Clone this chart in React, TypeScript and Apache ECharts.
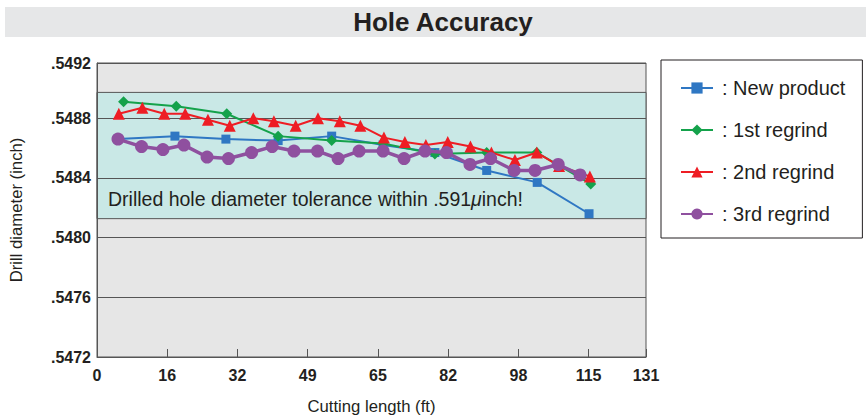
import React, { useEffect, useRef } from "react";
import * as echarts from "echarts";

// Cutting length (ft) tick labels
const xTickLabels = ["0", "16", "32", "49", "65", "82", "98", "115", "131"];
const xStep = 16.4; // ft between ticks (5 m)
const xMax = 128.2; // right edge of plot
const yMin = 0.5472;
const yStep = 0.0004;
const yMax = 0.54917; // top edge of plot

const toleranceBand = [0.548127, 0.548973];

const seriesNames = ["New product", "1st regrind", "2nd regrind", "3rd regrind"];

const newProductX = [4.9, 18.2, 30.1, 42.3, 54.8, 66.8, 78.9, 91.0, 102.8, 114.9];
const newProductY = [0.54866, 0.54868, 0.54866, 0.54865, 0.54868, 0.54862, 0.54857, 0.54845, 0.54837, 0.54816];

const regrind1X = [6.2, 18.5, 30.3, 42.3, 54.8, 66.8, 78.9, 91.0, 102.7, 115.3];
const regrind1Y = [0.54891, 0.54888, 0.54883, 0.54868, 0.54865, 0.54863, 0.54856, 0.54857, 0.54857, 0.54836];

const regrind2X = [5.1, 10.6, 15.7, 20.6, 25.9, 31.0, 36.5, 41.3, 46.4, 51.6, 56.7, 61.5, 67.0, 71.9, 76.8, 81.9, 87.2, 92.1, 97.6, 102.7, 107.9, 115.1];
const regrind2Y = [0.54883, 0.54887, 0.54883, 0.54883, 0.54879, 0.54875, 0.5488, 0.54878, 0.54875, 0.5488, 0.54878, 0.54875, 0.54867, 0.54864, 0.54862, 0.54864, 0.54861, 0.54857, 0.54852, 0.54857, 0.54848, 0.54841];

const regrind3X = [4.9, 10.4, 15.4, 20.3, 25.7, 30.7, 36.1, 40.9, 46.0, 51.5, 56.3, 61.2, 66.8, 71.7, 76.6, 81.6, 87.1, 91.9, 97.4, 102.3, 107.7, 112.8];
const regrind3Y = [0.54866, 0.54861, 0.54859, 0.54862, 0.54854, 0.54853, 0.54857, 0.54861, 0.54858, 0.54858, 0.54853, 0.54858, 0.54858, 0.54853, 0.54858, 0.54857, 0.54849, 0.54853, 0.54845, 0.54845, 0.54849, 0.54842];

const colors = ["#2f77c3", "#14a24b", "#ee1d24", "#8f509f"];
const symbols = ["rect", "diamond", "triangle", "circle"];
const symbolSizes = [9, 11, 12, 13];
const lineWidths = [2, 2, 2, 3.5];

const zip = (xs: number[], ys: number[]) => xs.map((x, i) => [x, ys[i]]);

const FONT = "'Liberation Sans', Arial, Helvetica, sans-serif";

export default function App() {
  const ref = useRef<HTMLDivElement>(null);
  useEffect(() => {
    if (!ref.current) return;
    const chart = echarts.init(ref.current, undefined, { renderer: "svg" });
    const datasets = [
      zip(newProductX, newProductY),
      zip(regrind1X, regrind1Y),
      zip(regrind2X, regrind2Y),
      zip(regrind3X, regrind3Y),
    ];
    const series: any[] = datasets.map((d, i) => ({
      name: seriesNames[i],
      type: "line",
      data: d,
      symbol: symbols[i],
      symbolSize: symbolSizes[i],
      showAllSymbol: true,
      color: colors[i],
      lineStyle: { width: lineWidths[i], color: colors[i] },
      itemStyle: { color: colors[i] },
      z: 2 + i * 0.1,
    }));
    series[0].markArea = {
      silent: true,
      z: 0.5,
      itemStyle: { color: "#c9e8e6", borderColor: "#555555", borderWidth: 1 },
      label: { show: false },
      data: [[{ yAxis: toleranceBand[0] }, { yAxis: toleranceBand[1] }]],
    };

    chart.setOption({
      animation: false,
      textStyle: { fontFamily: FONT },
      graphic: [
        {
          type: "rect",
          left: 5,
          top: 7,
          shape: { width: 861, height: 30 },
          style: { fill: "#e6e7e8" },
          z: -1,
        },
        {
          type: "text",
          x: 443,
          y: 22,
          style: {
            text: "Hole Accuracy",
            fill: "#231f20",
            font: "bold 26px 'Liberation Sans', Arial, sans-serif",
            textAlign: "center",
            textVerticalAlign: "middle",
          },
        },
        {
          type: "text",
          x: 108,
          y: 199,
          z: 10,
          style: {
            text: "{a|Drilled hole diameter tolerance within .591}{b|μ}{a|inch!}",
            rich: {
              a: { fontSize: 19.5, fill: "#231f20", fontFamily: FONT },
              b: { fontSize: 19.5, fill: "#231f20", fontFamily: FONT, fontStyle: "italic" },
            },
            textAlign: "left",
            textVerticalAlign: "middle",
          },
        },
      ],
      legend: {
        orient: "vertical",
        left: 661,
        top: 60,
        padding: [18, 17, 14, 19],
        itemGap: 22,
        itemWidth: 32,
        itemHeight: 14,
        borderColor: "#231f20",
        borderWidth: 1,
        backgroundColor: "#ffffff",
        formatter: ": {name}",
        textStyle: { fontSize: 20, color: "#231f20", fontFamily: FONT, padding: [0, 0, 0, 4] },
        data: seriesNames,
      },
      grid: {
        left: 97,
        right: 220,
        top: 63,
        bottom: 61,
        show: true,
        backgroundColor: "#e6e6e6",
        borderColor: "#555555",
        borderWidth: 1,
      },
      xAxis: {
        type: "value",
        min: 0,
        max: xMax,
        interval: xStep,
        z: 1,
        name: "Cutting length (ft)",
        nameLocation: "middle",
        nameGap: 41,
        nameTextStyle: { fontSize: 16.7, color: "#231f20", fontFamily: FONT },
        axisLine: { show: true, lineStyle: { color: "#555555", width: 1 } },
        axisTick: { show: true, inside: true, length: 8, lineStyle: { color: "#555555" } },
        splitLine: { show: false },
        axisLabel: {
          margin: 10,
          fontSize: 16,
          fontWeight: "bold",
          color: "#231f20",
          fontFamily: FONT,
          showMaxLabel: true,
          formatter: (v: number) => xTickLabels[Math.round(v / xStep)] ?? "",
        },
      },
      yAxis: {
        type: "value",
        min: yMin,
        max: yMax,
        interval: yStep,
        z: 1,
        name: "Drill diameter (inch)",
        nameLocation: "middle",
        nameGap: 72,
        nameTextStyle: { fontSize: 16.7, color: "#231f20", fontFamily: FONT },
        axisLine: { show: true, lineStyle: { color: "#555555", width: 1 } },
        axisTick: { show: false },
        splitLine: { show: true, lineStyle: { color: "#555555", width: 1 } },
        axisLabel: {
          margin: 6,
          fontSize: 16,
          fontWeight: "bold",
          color: "#231f20",
          fontFamily: FONT,
          showMaxLabel: true,
          formatter: (v: number) => v.toFixed(4).replace(/^0/, ""),
        },
      },
      series,
    });
    return () => chart.dispose();
  }, []);
  return (
    <div
      ref={ref}
      style={{ position: "fixed", left: 0, top: 0, width: 866, height: 420, background: "#ffffff" }}
    />
  );
}
